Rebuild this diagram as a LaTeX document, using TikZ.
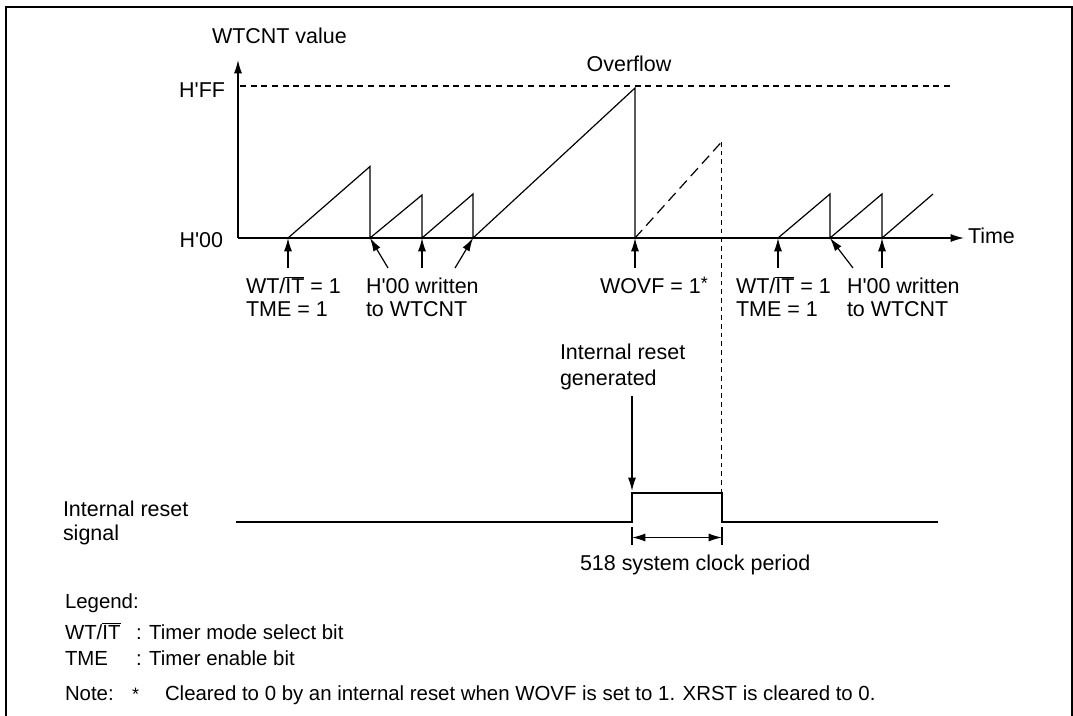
\documentclass[tikz,border=0pt]{standalone}
\usepackage{fontspec}
\setmainfont{Liberation Sans}
\usetikzlibrary{arrows.meta}
\newcommand{\wtit}{WT/$\overline{\mbox{IT}}$}
\newcommand{\hq}{H\textquotesingle}
\begin{document}
\begin{tikzpicture}[x=0.75pt,y=-0.75pt,
  txt/.style={inner sep=0pt,outer sep=0pt,font=\fontsize{16.1}{18}\selectfont},
  legtxt/.style={txt,font=\fontsize{15.3}{18}\selectfont},
  ln/.style={line width=0.9pt,line join=miter},
  arr/.style={ln,-{Latex[length=10pt,width=6pt]}},
  dim/.style={ln,{Latex[length=10pt,width=6pt]}-{Latex[length=10pt,width=6pt]}},
  dashA/.style={ln,line width=0.8pt,dash pattern=on 4.5pt off 3.5pt},
  dashB/.style={ln,line width=0.8pt,dash pattern=on 3.5pt off 3pt},
  dashC/.style={ln,dash pattern=on 8pt off 4.5pt}]
\useasboundingbox (0,0) rectangle (1073,716);
\begin{scope}
\clip (0,0) rectangle (1073,716);
\draw[line width=1.5pt] (6,730) -- (6,7.5) -- (1071.5,7.5) -- (1071.5,730);
\end{scope}

% axes
\coordinate (O) at (238,238);
\coordinate (Ytop) at (238,60);
\coordinate (Xend) at (964,238);
\draw[arr] (O) -- (Ytop);
\draw[arr] (O) -- (Xend);
\coordinate (ff1) at (240,86);
\coordinate (ff2) at (952,86);
\draw[dashA] (ff1) -- (ff2);

\node[txt,anchor=base west] (ylab) at (212,44) {WTCNT value};
\node[txt,anchor=base east] (hff) at (225,98) {\hq FF};
\node[txt,anchor=base east] (h00) at (223,248) {\hq 00};
\node[txt,anchor=base] (ovf) at (629,72) {Overflow};
\node[txt,anchor=base west] (time) at (968,243.5) {Time};

% sawtooth
\coordinate (a0) at (288,238);
\coordinate (a1) at (370,166.5);
\coordinate (a2) at (370,238);
\coordinate (b1) at (422,195);
\coordinate (b2) at (422,238);
\coordinate (c1) at (473,194);
\coordinate (c2) at (473,238);
\coordinate (d1) at (635,88);
\coordinate (d2) at (635,238);
\draw[ln] (a0) -- (a1) -- (a2) -- (b1) -- (b2) -- (c1) -- (c2) -- (d1) -- (d2);
\coordinate (e1) at (721.5,142);
\draw[dashC] (d2) -- (e1);
\coordinate (pt) at (721.5,493);
\draw[dashB] (e1) -- (pt);

\coordinate (f0) at (778,238);
\coordinate (f1) at (830,194);
\coordinate (f2) at (830,238);
\coordinate (g1) at (882,194);
\coordinate (g2) at (882,238);
\coordinate (h1) at (933,194);
\draw[ln] (f0) -- (f1) -- (f2) -- (g1) -- (g2) -- (h1);

% pointer arrows
\coordinate (pa) at (288,268);
\coordinate (pb) at (388,268);
\coordinate (pc) at (422,268);
\coordinate (pd) at (455,268);
\coordinate (pe) at (635,268);
\coordinate (pf) at (778,268);
\coordinate (pg) at (853,268);
\coordinate (ph) at (882,268);
\draw[arr] (pa) -- (a0);
\draw[arr] (pb) -- (a2);
\draw[arr] (pc) -- (b2);
\draw[arr] (pd) -- (c2);
\draw[arr] (pe) -- (d2);
\draw[arr] (pf) -- (f0);
\draw[arr] (pg) -- (f2);
\draw[arr] (ph) -- (g2);

\node[txt,anchor=base west] (l1a) at (246,293.5) {\wtit\ = 1};
\node[txt,anchor=base west] (l1b) at (246,316.5) {TME = 1};
\node[txt,anchor=base west] (l2a) at (366,293.5) {\hq 00 written};
\node[txt,anchor=base west] (l2b) at (366,316.5) {to WTCNT};
\node[txt,anchor=base west] (l3) at (600,293.5) {WOVF = 1\raisebox{0.35ex}{\fontsize{13.5}{14}\selectfont *}};
\node[txt,anchor=base west] (l4a) at (736,293.5) {\wtit\ = 1};
\node[txt,anchor=base west] (l4b) at (736,316.5) {TME = 1};
\node[txt,anchor=base west] (l5a) at (847,293.5) {\hq 00 written};
\node[txt,anchor=base west] (l5b) at (847,316.5) {to WTCNT};

% reset generated
\node[txt,anchor=base west] (rg1) at (560,359.5) {Internal reset};
\node[txt,anchor=base west] (rg2) at (560,385) {generated};
\coordinate (rgs) at (632,396);
\coordinate (rge) at (632,491);
\draw[arr] (rgs) -- (rge);

% reset signal
\node[txt,anchor=base west] (rs1) at (63,516) {Internal reset};
\node[txt,anchor=base west] (rs2) at (63,540) {signal};
\coordinate (s0) at (236,522);
\coordinate (s1) at (632,522);
\coordinate (s2) at (632,493);
\coordinate (s3) at (722,493);
\coordinate (s4) at (722,522);
\coordinate (s5) at (938,522);
\draw[ln] (s0) -- (s1) -- (s2) -- (s3) -- (s4) -- (s5);

% dimension
\coordinate (t1a) at (632,527);
\coordinate (t1b) at (632,545);
\coordinate (t2a) at (722,527);
\coordinate (t2b) at (722,545);
\draw[ln] (t1a) -- (t1b);
\draw[ln] (t2a) -- (t2b);
\coordinate (da) at (632,537.5);
\coordinate (db) at (722,537.5);
\draw[dim] (da) -- (db);
\node[txt,anchor=base west] (per) at (580,570) {518 system clock period};

% legend
\node[legtxt,anchor=base west] (lg) at (65,608) {Legend:};
\node[legtxt,anchor=base west] (lg1) at (65,639) {\wtit};
\node[legtxt,anchor=base west] (lg1b) at (136,639) {: Timer mode select bit};
\node[legtxt,anchor=base west] (lg2) at (65,665) {TME};
\node[legtxt,anchor=base west] (lg2b) at (136,665) {: Timer enable bit};
\node[legtxt,anchor=base west] (nt) at (65,700.5) {Note:};
\node[legtxt,anchor=base west] (nts) at (132,700.5) {\fontsize{13.5}{14}\selectfont *};
\node[legtxt,anchor=base west] (ntt) at (165,700.5) {Cleared to 0 by an internal reset when WOVF is set to 1. XRST is cleared to 0.};
\end{tikzpicture}
\end{document}
